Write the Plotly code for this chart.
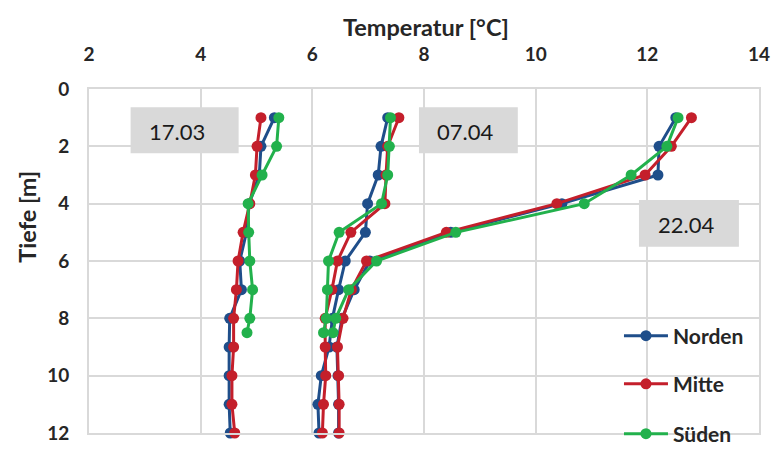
import plotly.graph_objects as go

# ---------------- data ----------------
depth = [1, 2, 3, 4, 5, 6, 7, 8, 9, 10, 11, 12]
depth_sueden = [1, 2, 3, 4, 5, 6, 7, 8, 8.5]

norden_1703 = [5.32, 5.08, 5.05, 4.87, 4.82, 4.70, 4.73, 4.52, 4.51, 4.51, 4.51, 4.53]
mitte_1703 = [5.08, 5.01, 4.98, 4.88, 4.76, 4.67, 4.64, 4.59, 4.59, 4.56, 4.56, 4.61]
sueden_1703 = [5.40, 5.36, 5.10, 4.85, 4.86, 4.88, 4.93, 4.88, 4.83]

norden_0704 = [7.35, 7.23, 7.18, 6.99, 6.95, 6.59, 6.47, 6.36, 6.30, 6.16, 6.10, 6.12]
mitte_0704 = [7.55, 7.35, 7.32, 7.30, 6.69, 6.45, 6.35, 6.23, 6.23, 6.24, 6.20, 6.18]
sueden_0704 = [7.40, 7.38, 7.35, 7.24, 6.48, 6.29, 6.27, 6.25, 6.20]

norden_2204 = [12.51, 12.21, 12.19, 10.47, 8.48, 7.03, 6.75, 6.53, 6.44, 6.46, 6.47, 6.47]
mitte_2204 = [12.79, 12.43, 11.96, 10.38, 8.40, 6.97, 6.70, 6.55, 6.45, 6.47, 6.48, 6.48]
sueden_2204 = [12.55, 12.35, 11.71, 10.87, 8.57, 7.15, 6.65, 6.42, 6.37]

series_names = ["Norden", "Mitte", "Süden"]
date_labels = ["17.03", "07.04", "22.04"]
x_ticks = [2, 4, 6, 8, 10, 12, 14]
y_ticks = [0, 2, 4, 6, 8, 10, 12]
x_title = "Temperatur [°C]"
y_title = "Tiefe [m]"

colors = {"Norden": "#1f4e8a", "Mitte": "#c41f2b", "Süden": "#22b14c"}

profiles = {
    "Norden": ([norden_1703, norden_0704, norden_2204], depth),
    "Mitte": ([mitte_1703, mitte_0704, mitte_2204], depth),
    "Süden": ([sueden_1703, sueden_0704, sueden_2204], depth_sueden),
}

FONT = "Lato"
TXT = "#262626"

fig = go.Figure()
legend_ids = ["legend", "legend2", "legend3"]
for name, lid in zip(series_names, legend_ids):
    temps, dep = profiles[name]
    xs, ys = [], []
    for t in temps:
        xs += list(t) + [None]
        ys += list(dep) + [None]
    fig.add_trace(go.Scatter(
        x=xs, y=ys, name=name, mode="lines+markers",
        line=dict(color=colors[name], width=3),
        marker=dict(color=colors[name], size=11),
        cliponaxis=False, connectgaps=False, legend=lid,
    ))

# date label boxes (x0, x1, y0, y1 in data units) and text anchors
boxes = [
    (2.745, 4.68, 0.64, 2.24, 3.03, 1.47),
    (7.91, 9.68, 0.64, 2.24, 8.20, 1.47),
    (11.85, 13.64, 3.87, 5.50, 12.16, 4.72),
]
for (x0, x1, y0, y1, tx, ty), lab in zip(boxes, date_labels):
    fig.add_shape(type="rect", x0=x0, x1=x1, y0=y0, y1=y1, xref="x", yref="y",
                  fillcolor="#d9d9d9", line=dict(width=0), layer="above")
    fig.add_annotation(x=tx, y=ty, xref="x", yref="y", text=lab, showarrow=False,
                       xanchor="left", yanchor="middle",
                       font=dict(family=FONT, size=22, color="#1a1a1a"))

# axis titles
fig.add_annotation(x=0.503, y=1.18, xref="paper", yref="paper", text=x_title,
                   showarrow=False, xanchor="center", yanchor="middle",
                   font=dict(family=FONT, size=23.5, color=TXT, weight="bold"))
fig.add_annotation(x=-0.093, y=0.628, xref="paper", yref="paper", text=y_title,
                   showarrow=False, xanchor="center", yanchor="middle", textangle=-90,
                   font=dict(family=FONT, size=23.5, color=TXT, weight="bold"))

legend_common = dict(
    xanchor="left", yanchor="middle", bgcolor="rgba(0,0,0,0)",
    font=dict(family=FONT, size=21, color=TXT, weight="bold"),
    itemwidth=44,
)
axis_common = dict(
    showgrid=True, gridcolor="#d9d9d9", gridwidth=2,
    showline=True, linecolor="#d9d9d9", linewidth=2, mirror=True,
    zeroline=False, ticks="outside", tickcolor="rgba(0,0,0,0)",
    tickfont=dict(family=FONT, size=19, color=TXT, weight="bold"),
    automargin=False,
)
fig.update_layout(
    width=771, height=452,
    margin=dict(l=89, r=12, t=89, b=19, autoexpand=False),
    paper_bgcolor="white", plot_bgcolor="white",
    showlegend=True,
    legend=dict(x=0.791, y=0.282, **legend_common),
    legend2=dict(x=0.791, y=0.142, **legend_common),
    legend3=dict(x=0.791, y=-0.003, **legend_common),
    xaxis=dict(side="top", range=[2, 14], tickvals=x_ticks,
               ticktext=[str(v) for v in x_ticks], ticklen=18, **axis_common),
    yaxis=dict(range=[12, 0], tickvals=y_ticks,
               ticktext=[str(v) for v in y_ticks], ticklen=14, **axis_common),
)

fig.write_html("out.html",
               config={"displayModeBar": False},
               post_script="document.body.style.margin='0';document.body.style.overflow='hidden';")
